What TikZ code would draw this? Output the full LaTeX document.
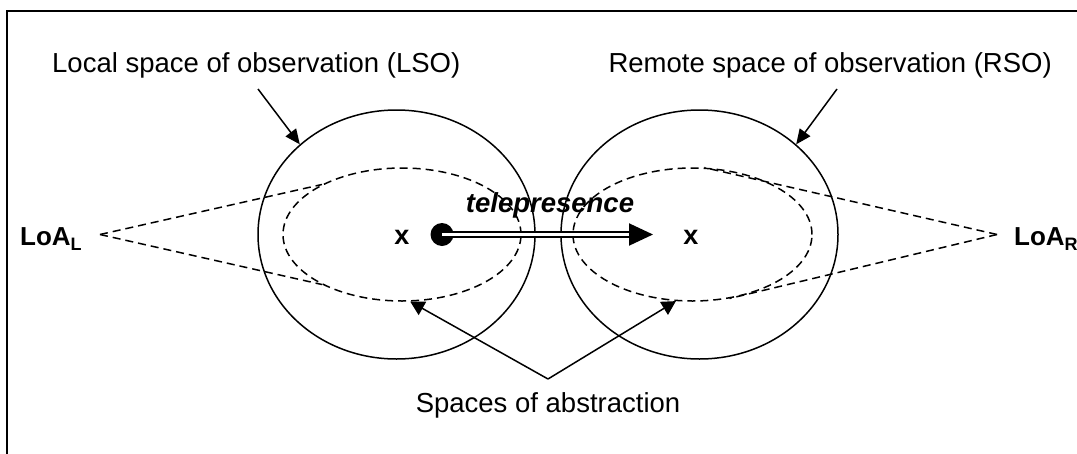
\documentclass[tikz,border=0pt]{standalone}
\usepackage{fontspec}
\setmainfont{Liberation Sans}
\usetikzlibrary{shapes.geometric,arrows.meta}
\tikzset{
  txt/.style={font=\fontsize{27.5}{30}\selectfont, inner sep=0, anchor=base},
  bigell/.style={draw, ellipse, line width=1.5pt, inner sep=0},
  dashell/.style={draw, ellipse, line width=1.5pt, inner sep=0, dash pattern=on 8pt off 5pt},
  dsh/.style={line width=1.5pt, dash pattern=on 8pt off 5pt},
  arr/.style={line width=1.5pt, -{Triangle[length=15pt,width=13pt]}},
  loa/.style={font=\bfseries\fontsize{26}{28}\selectfont, inner sep=0, anchor=base west}
}
\begin{document}
\begin{tikzpicture}[x=1pt,y=-1pt]
\clip (0,0) rectangle (1077,453);
\fill[white] (0,0) rectangle (1077,453);
% frame
\draw[line width=2pt] (7,470) -- (7,11) -- (1090,11);
% observation spaces
\node[bigell, minimum width=277pt, minimum height=249pt] (LSO) at (396.5,234.5) {};
\node[bigell, minimum width=277pt, minimum height=249pt] (RSO) at (699.5,234.5) {};
% abstraction spaces
\node[dashell, minimum width=238pt, minimum height=133pt] (DL) at (402,234.5) {};
\node[dashell, minimum width=239pt, minimum height=133pt] (DR) at (692.5,234.5) {};
% labels
\node[txt, anchor=base west] (LSOt) at (52,72) {Local space of observation (LSO)};
\node[txt, anchor=base east] (RSOt) at (1052,72) {Remote space of observation (RSO)};
\coordinate (la) at (258,89);
\coordinate (ra) at (837,89);
\draw[arr] (la) -- (LSO.137);
\draw[arr] (ra) -- (RSO.43);
% LoA
\node[loa] (LoAL) at (20,245) {LoA\raisebox{-5pt}{\fontsize{18}{18}\selectfont L}};
\node[loa] (LoAR) at (1014,245) {LoA\raisebox{-5pt}{\fontsize{18}{18}\selectfont R}};
\coordinate (apL) at (100,234.5);
\coordinate (apR) at (997,234.5);
\draw[dsh] (apL) -- (DL.148);
\draw[dsh] (apL) -- (DL.212);
\draw[dsh] (apR) -- (DR.80);
\draw[dsh] (apR) -- (DR.300);
% x and telepresence
\node[txt, font=\bfseries\fontsize{27}{30}\selectfont] (xL) at (402,244) {x};
\node[txt, font=\bfseries\fontsize{27}{30}\selectfont] (xR) at (691,244) {x};
\node[circle, fill, minimum size=23pt, inner sep=0] (dot) at (442,234.5) {};
\coordinate (tip) at (653,234.5);
\draw[line width=2pt, double, double distance=3pt, -{Triangle[length=24pt,width=22pt]}] (dot.center) -- (tip);
\node[txt, font=\bfseries\itshape\fontsize{27.5}{30}\selectfont] (tele) at (550,212) {telepresence};
% spaces of abstraction
\node[txt] (SoA) at (548,412) {Spaces of abstraction};
\coordinate (vtx) at (548,379);
\draw[arr, -{Triangle[length=14pt,width=15pt]}] (vtx) -- (DL.277);
\draw[arr, -{Triangle[length=14pt,width=15pt]}] (vtx) -- (DR.256);
\end{tikzpicture}
\end{document}
